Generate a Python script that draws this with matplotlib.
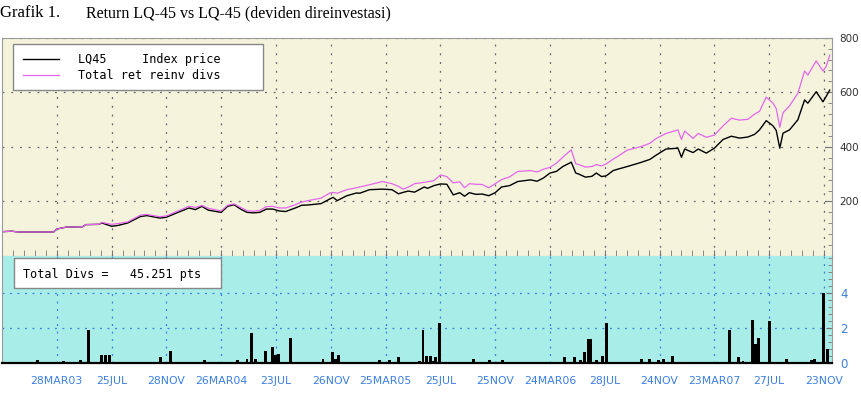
# Imports
# -----------------------------------------------------------
import matplotlib
matplotlib.use('Agg')
import matplotlib.pyplot as plt
from matplotlib.ticker import FixedLocator, MultipleLocator
from matplotlib.patches import Rectangle

# Weekly axis (weeks since end Nov 2002), date labels every 17 weeks
tick_weeks = [17, 34, 51, 68, 85, 102, 119, 136, 153, 170, 187, 204, 221, 238, 255]
tick_labels = ['28MAR03', '25JUL', '28NOV', '26MAR04', '23JUL', '26NOV', '25MAR05',
               '25JUL', '25NOV', '24MAR06', '28JUL', '24NOV', '23MAR07', '27JUL', '23NOV']

# Index price and total return
weeks = [0, 3, 5, 16, 17, 20, 25, 26, 30, 31, 34, 36, 39, 43, 45, 49, 51, 54, 58, 60,
         62, 64, 68, 70, 72, 74, 76, 78, 80, 82, 84, 86, 88, 91, 93, 95, 99, 101.7, 102.7, 104,
         107, 110, 111, 114, 118, 121, 123, 124.4, 126, 128, 131, 132, 134, 136, 138, 140, 142, 143.5, 145, 147,
         149, 151, 153, 155, 157.5, 160, 164, 166, 168, 170, 172, 174, 176, 176.6, 178, 179, 181, 183, 184.4, 186,
         187.5, 189.6, 191, 194, 198, 201, 203, 206, 209.7, 210.8, 211.8, 214.4, 216, 218.5, 221, 223.7, 226.3, 228.8, 231.4, 233.5,
         235, 237.1, 239.2, 240.2, 241.3, 242.3, 244.3, 246.9, 249, 250, 252.6, 254.7, 255.7, 256.8]
lq45 = [89, 91, 88, 88, 99, 106, 107, 115, 116, 121, 109, 112, 121, 145, 148, 139, 142, 157, 176, 170,
        182, 168, 160, 182, 188, 172, 160, 158, 160, 172, 172, 165, 163, 176, 186, 187, 192, 209, 215, 203,
        221, 231, 230, 243, 245, 243, 228, 233, 238, 234, 253, 248, 258, 264, 263, 224, 232, 219, 232, 226,
        227, 221, 232, 253, 258, 273, 279, 274, 286, 304, 310, 328, 340, 344, 304, 300, 289, 292, 304, 291,
        294, 313, 318, 328, 342, 354, 370, 392, 395, 362, 392, 379, 392, 377, 395, 427, 439, 432, 436, 446,
        462, 496, 477, 460, 395, 450, 462, 499, 572, 560, 602, 565, 585, 608]
total_ret = [89, 91, 88, 88, 99, 106, 107, 115, 116, 123, 116, 119, 125, 150, 152, 144, 147, 162, 182, 178,
             185, 175, 165, 186, 191, 178, 166, 164, 167, 181, 182, 176, 176, 188, 198, 203, 212, 231, 233, 230,
             243, 250, 253, 261, 273, 265, 255, 245, 252, 265, 270, 272, 276, 297, 291, 268, 272, 250, 265, 263,
             262, 250, 265, 280, 290, 310, 313, 308, 318, 325, 340, 362, 383, 389, 338, 335, 326, 328, 335, 330,
             338, 355, 365, 388, 400, 413, 431, 449, 462, 427, 458, 431, 449, 435, 443, 477, 505, 498, 501, 520,
             530, 582, 560, 540, 472, 525, 550, 596, 678, 663, 715, 678, 695, 736]

# Dividends (pts)
div_weeks = [10.9, 19, 24.4, 26.7, 27.8, 30.9, 32.2, 33.4, 49.2, 52.3, 62.9, 73.2, 76, 77.5, 78.7, 80.5,
             81.7, 83.8, 84.8, 85.8, 89.5, 99.6, 102.5, 103.4, 104.3, 106.9, 117.2, 120.1, 122.9, 129.4,
             130.6, 131.8, 132.9, 133.8, 134.6, 135.6, 136.6, 141, 146.3, 151.3, 153.1, 155.2, 158, 174.4,
             177.7, 179.5, 180.8, 181.8, 182.7, 184.4, 185.4, 186.3, 187.5, 198.4, 199.7, 200.9, 203.7,
             205.1, 208, 225.7, 228.6, 229.9, 232.8, 233.8, 234.7, 236.3, 238.2, 239.4, 243.3, 244.5, 249,
             251.2, 252.2, 254.9, 256.2]
div_values = [0.19, 0.13, 0.19, 1.91, 0.10, 0.50, 0.45, 0.47, 0.37, 0.71, 0.17, 0.17, 0.22, 1.74, 0.22, 0.10,
              0.71, 0.90, 0.47, 0.52, 1.46, 0.22, 0.63, 0.22, 0.45, 0.10, 0.19, 0.19, 0.37, 0.13,
              1.91, 0.43, 0.41, 0.15, 0.33, 2.28, 0.10, 0.08, 0.23, 0.19, 0.10, 0.19, 0.10, 0.37,
              0.37, 0.19, 0.64, 1.38, 1.38, 0.19, 0.10, 0.43, 2.28, 0.23, 0.10, 0.23, 0.19,
              0.23, 0.43, 1.91, 0.37, 0.15, 2.47, 1.12, 1.46, 0.10, 2.39, 0.10, 0.23, 0.10, 0.10,
              0.19, 0.23, 3.97, 0.79]

legend_labels = ['LQ45     Index price', 'Total ret reinv divs']
total_divs_text = 'Total Divs =   45.251 pts'
title_left = 'Grafik 1.'
title_right = 'Return LQ-45 vs LQ-45 (deviden direinvestasi)'

# Colors
beige = '#f5f3dc'
cyan = '#a8ede7'
blue = '#3a7fe6'
magenta = '#e466ec'
mono = 'DejaVu Sans Mono'

W, H = 862, 408
fig = plt.figure(figsize=(W / 100, H / 100), dpi=100)

# title
fig.text(0.0, 1 - 17 / H, title_left, family='Liberation Serif', fontsize=12, va='baseline')
fig.text(86 / W, 1 - 17 / H, title_right, family='Liberation Serif', fontsize=11.5, va='baseline')

# axes boxes (pixel layout)
x0, x1 = 2, 832
ax1 = fig.add_axes([x0 / W, 1 - 256 / H, (x1 - x0) / W, (256 - 37.7) / H])
ax2 = fig.add_axes([x0 / W, 1 - 363.3 / H, (x1 - x0) / W, (363.3 - 256) / H])

# --- top panel
ax1.set_facecolor(beige)
ax1.plot(weeks, lq45, color='black', lw=1.0)
ax1.plot(weeks, total_ret, color=magenta, lw=0.9)
ax1.set_xlim(0, 257.5)
ax1.set_ylim(0, 800)
ax1.xaxis.set_major_locator(FixedLocator(tick_weeks))
ax1.xaxis.set_minor_locator(MultipleLocator(3.4))
ax1.set_xticklabels([])
ax1.yaxis.tick_right()
ax1.set_yticks([200, 400, 600, 800])
ax1.yaxis.set_minor_locator(MultipleLocator(40))
ax1.tick_params(axis='y', which='both', direction='in', color='#777', labelsize=7.5,
                labelcolor='#333', pad=5, length=4)
ax1.tick_params(axis='y', which='minor', length=3)
ax1.tick_params(axis='x', which='both', direction='in', color='#777', length=4)
ax1.grid(True, which='major', color='#666', lw=0.9, linestyle=(0, (1.5, 5.5)))
for s in ax1.spines.values():
    s.set_color('#999')

# legend box
ax1.add_patch(Rectangle((0.0133, 0.760), 0.3012, 0.211, transform=ax1.transAxes,
                        facecolor='white', edgecolor='#888', lw=1, zorder=5))
ax1.plot([0.0253, 0.0687], [0.902, 0.902], transform=ax1.transAxes, color='black', lw=1.0, zorder=6)
ax1.plot([0.0253, 0.0687], [0.829, 0.829], transform=ax1.transAxes, color=magenta, lw=0.9, zorder=6)
ax1.text(0.0916, 0.902, legend_labels[0], transform=ax1.transAxes, family=mono, fontsize=8.5,
         va='center', zorder=6)
ax1.text(0.0916, 0.829, legend_labels[1], transform=ax1.transAxes, family=mono, fontsize=8.5,
         va='center', zorder=6)

# --- bottom panel
ax2.set_facecolor(cyan)
ax2.bar(div_weeks, div_values, width=0.9, color='black', zorder=3)
ax2.set_xlim(0, 257.5)
ax2.set_ylim(0, 6.1)
ax2.set_xticks(tick_weeks)
ax2.set_xticklabels(tick_labels)
ax2.tick_params(axis='x', length=0, pad=9, labelsize=7.8, labelcolor=blue)
ax2.yaxis.tick_right()
ax2.set_yticks([0, 2, 4])
ax2.yaxis.set_minor_locator(MultipleLocator(0.4))
ax2.tick_params(axis='y', which='both', direction='in', color='#777', labelsize=8.5,
                labelcolor=blue, pad=6, length=4)
ax2.tick_params(axis='y', which='minor', length=3)
ax2.grid(True, which='major', color=blue, lw=0.9, linestyle=(0, (1.5, 4.5)))
ax2.set_axisbelow(True)
ax2.spines['top'].set_visible(False)
ax2.spines['left'].set_color('#999')
ax2.spines['right'].set_color('#999')
ax2.spines['bottom'].set_color('black')
ax2.spines['bottom'].set_linewidth(1.6)

ax2.add_patch(Rectangle((0.0145, 0.699), 0.2495, 0.28, transform=ax2.transAxes,
                        facecolor='white', edgecolor='#888', lw=1, zorder=5))
ax2.text(0.0257, 0.832, total_divs_text, transform=ax2.transAxes, family=mono, fontsize=8.5,
         va='center', zorder=6)

fig.savefig('out.png', dpi=100, facecolor='white')
